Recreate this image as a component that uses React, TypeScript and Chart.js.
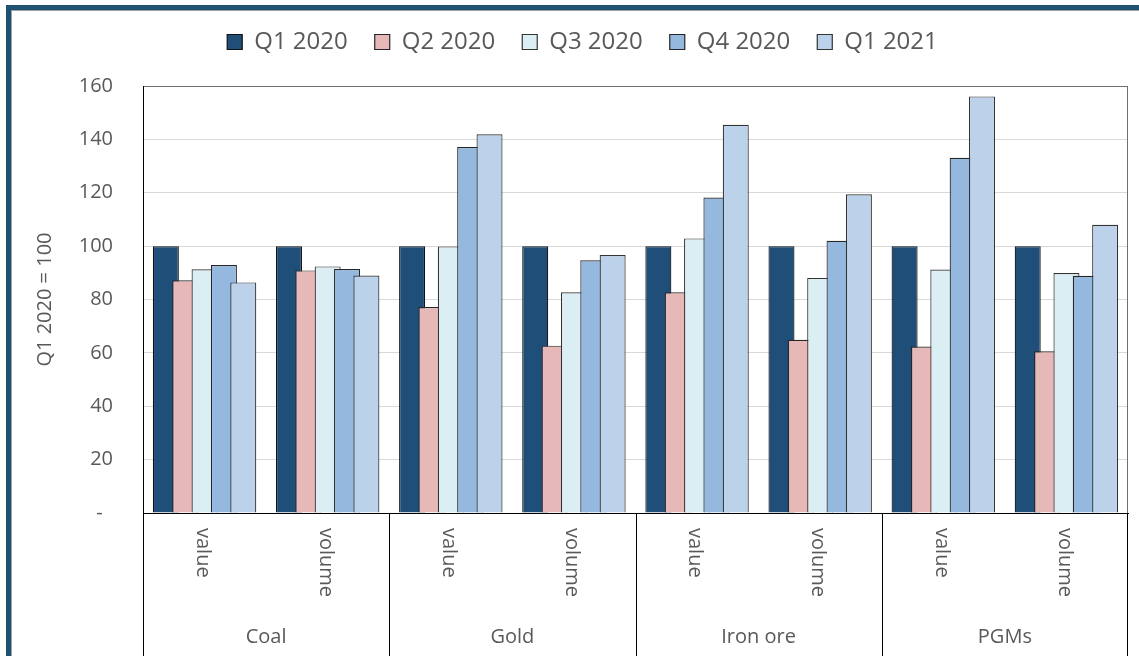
import React, { useEffect, useRef } from 'react';
import { Chart, registerables } from 'chart.js';

Chart.register(...registerables);

// ---- data ----
const groups = ['Coal', 'Gold', 'Iron ore', 'PGMs'];
const measures = ['value', 'volume'];
const seriesNames = ['Q1 2020', 'Q2 2020', 'Q3 2020', 'Q4 2020', 'Q1 2021'];
const q1_2020 = [100, 100, 100, 100, 100, 100, 100, 100];
const q2_2020 = [87.2, 90.9, 77.2, 62.7, 82.7, 64.9, 62.4, 60.6];
const q3_2020 = [91.3, 92.4, 99.9, 82.7, 102.9, 88.1, 91.2, 89.9];
const q4_2020 = [92.9, 91.4, 137.1, 94.7, 118.2, 102.0, 133.1, 88.9];
const q1_2021 = [86.4, 89.0, 141.9, 96.7, 145.5, 119.4, 156.1, 108.0];
const seriesValues = [q1_2020, q2_2020, q3_2020, q4_2020, q1_2021];
const seriesColors = ['#1F4E79', '#E6B8B7', '#DBEEF4', '#95B8DF', '#BCD1EA'];
const seriesBorders = ['#111111', '#262626', '#333333', '#262626', '#333333'];
const yAxisTitle = 'Q1 2020 = 100';
const yMin = 0;
const yMax = 160;
const yStep = 20;

const labels = groups.flatMap(() => measures);

const TEXT = '#595959';
const FONT = "'Open Sans', sans-serif";

// draw datasets so that later series sit on top of earlier ones
const drawOrderPlugin = {
  id: 'drawOrder',
  beforeDatasetDraw() {
    return false;
  },
  afterDatasetsDraw(chart: any) {
    const { ctx, chartArea } = chart;
    ctx.save();
    ctx.beginPath();
    ctx.rect(chartArea.left, chartArea.top - 2, chartArea.right - chartArea.left, chartArea.bottom - chartArea.top + 2);
    ctx.clip();
    for (let i = 0; i < chart.data.datasets.length; i++) {
      const meta = chart.getDatasetMeta(i);
      if (!meta.hidden) meta.controller.draw();
    }
    ctx.restore();
  },
};

const categoryAxisPlugin = {
  id: 'categoryAxis',
  afterDraw(chart: any) {
    const { ctx, chartArea } = chart;
    const x = chart.scales.x;
    const n = labels.length;
    const step = (x.right - x.left) / n;
    ctx.save();
    // right border of plot
    ctx.strokeStyle = '#6F6F6F';
    ctx.lineWidth = 1;
    ctx.beginPath();
    const rx = Math.round(chartArea.right) - 0.5;
    ctx.moveTo(rx, chartArea.top);
    ctx.lineTo(rx, chartArea.bottom);
    ctx.stroke();
    // group separators
    ctx.strokeStyle = '#000';
    for (let g = 0; g <= groups.length; g++) {
      let px = Math.round(x.left + g * measures.length * step) + 0.5;
      if (g === groups.length) px = rx;
      ctx.beginPath();
      ctx.moveTo(px, chartArea.bottom);
      ctx.lineTo(px, chart.height);
      ctx.stroke();
    }
    // rotated sub-category labels
    ctx.fillStyle = TEXT;
    ctx.font = `20px ${FONT}`;
    ctx.textAlign = 'left';
    ctx.textBaseline = 'middle';
    for (let i = 0; i < n; i++) {
      const px = x.getPixelForTick(i);
      ctx.save();
      ctx.translate(px - 2, chartArea.bottom + 15);
      ctx.rotate(Math.PI / 2);
      ctx.fillText(labels[i], 0, 0);
      ctx.restore();
    }
    // group labels
    ctx.textAlign = 'center';
    ctx.textBaseline = 'middle';
    for (let g = 0; g < groups.length; g++) {
      const cx = x.left + (g + 0.5) * measures.length * step;
      ctx.fillText(groups[g], cx, chartArea.bottom + 124);
    }
    ctx.restore();
  },
};

const legendGapPlugin = {
  id: 'legendGap',
  afterInit(chart: any) {
    const legend = chart.legend;
    if (legend && !legend.__gapPatched) {
      const orig = legend.fit.bind(legend);
      legend.fit = function () {
        orig();
        this.height += 22;
      };
      legend.__gapPatched = true;
    }
  },
};

export default function App() {
  const ref = useRef<HTMLCanvasElement | null>(null);

  useEffect(() => {
    if (!ref.current) return;
    Chart.defaults.font.family = FONT;
    const chart = new Chart(ref.current, {
      type: 'bar',
      data: {
        labels,
        datasets: seriesNames.map((name, i) => ({
          label: name,
          data: seriesValues[i],
          backgroundColor: seriesColors[i],
          borderColor: seriesBorders[i],
          borderWidth: 1.2,
          barPercentage: 1.344,
          categoryPercentage: 0.786,
        })),
      },
      options: {
        responsive: false,
        animation: false,
        layout: { padding: { left: 37, right: 11, top: 3, bottom: 0 } },
        plugins: {
          tooltip: { enabled: false },
          legend: {
            position: 'top',
            labels: {
              color: TEXT,
              font: { size: 24, family: FONT },
              boxWidth: 15,
              boxHeight: 15,
              padding: 27,
            },
          },
        },
        scales: {
          x: {
            type: 'category',
            ticks: { display: false },
            grid: { display: false, drawTicks: false },
            border: { display: true, color: '#000', width: 1 },
            afterFit: (scale: any) => {
              scale.height = 143;
            },
          },
          y: {
            min: yMin,
            max: yMax,
            ticks: {
              stepSize: yStep,
              color: TEXT,
              font: { size: 20, family: FONT },
              padding: 30,
              callback: (v: any) => (Number(v) === 0 ? '-  ' : String(v)),
            },
            grid: {
              drawTicks: false,
              color: (c: any) => (c.tick && c.tick.value === yMax ? '#6F6F6F' : '#D9D9D9'),
              lineWidth: 1,
            },
            border: { display: true, color: '#000', width: 1 },
            title: {
              display: true,
              text: yAxisTitle,
              color: TEXT,
              font: { size: 20, family: FONT },
              padding: { top: -4, bottom: 0 },
            },
            afterFit: (scale: any) => {
              scale.width = 106;
            },
          },
        },
      },
      plugins: [drawOrderPlugin, categoryAxisPlugin, legendGapPlugin],
    });
    const fonts = (document as any).fonts;
    if (fonts && fonts.ready) fonts.ready.then(() => { try { chart.update(); } catch (e) {} });
    return () => chart.destroy();
  }, []);

  return (
    <div style={{ position: 'fixed', left: 0, top: 0, width: 1139, height: 656, overflow: 'hidden', background: '#fff' }}>
      <div
        style={{
          position: 'absolute',
          left: 6,
          top: 5,
          width: 1200,
          height: 720,
          border: '5px solid #1F5170',
          boxShadow: 'inset 1px 1px 0 #A0A0A0',
          boxSizing: 'border-box',
        }}
      />
      <canvas
        ref={ref}
        width={1139}
        height={656}
        style={{ position: 'absolute', left: 0, top: 0, width: 1139, height: 656 }}
      />
    </div>
  );
}
